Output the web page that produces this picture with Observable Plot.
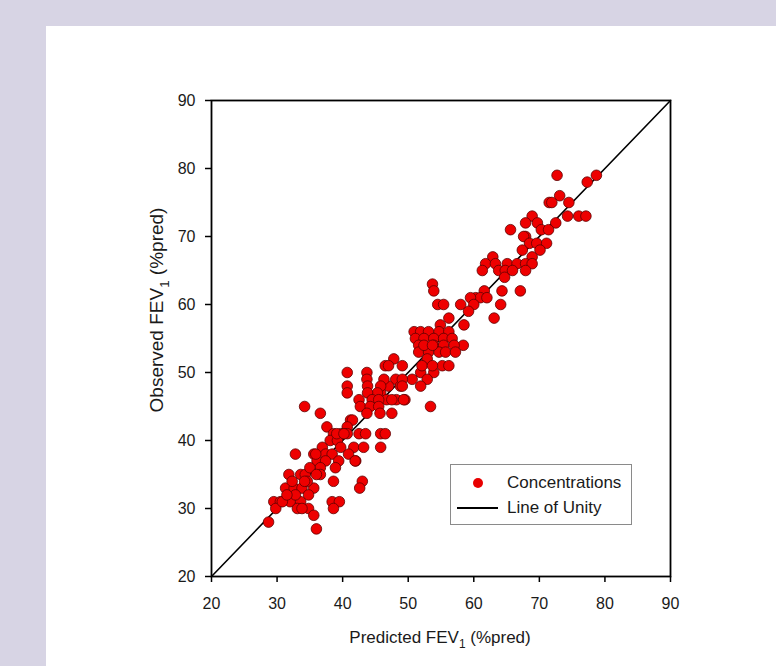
<!DOCTYPE html>
<html>
<head>
<meta charset="utf-8">
<script src="https://cdn.jsdelivr.net/npm/d3@7"></script>
<script src="https://cdn.jsdelivr.net/npm/@observablehq/plot@0.6"></script>
<style>
  html, body { margin: 0; padding: 0; }
  body { width: 776px; height: 666px; background: #d7d4e4; position: relative; overflow: hidden;
         font-family: "Liberation Sans", Arial, sans-serif; }
  #panel { position: absolute; left: 46px; top: 26px; width: 730px; height: 640px; background: #fff; }
  #legend { position: absolute; left: 404px; top: 438px; width: 180px; height: 59px;
            border: 1px solid #8a8a8a; background: #fff; color: #1a1a1a; font-size: 17px; }
  #legend .item { position: absolute; left: 0; height: 20px; white-space: nowrap; }
  #legend .lab { position: absolute; left: 56px; top: 0; line-height: 20px; }
  #legend .dot { position: absolute; left: 22px; top: 5px; width: 10px; height: 10px; border-radius: 50%; background: #e80000; }
  #legend .ln { position: absolute; left: 6px; top: 9px; width: 41px; height: 2px; background: #000; }
</style>
</head>
<body>
<div id="panel"></div>
<script>
// ---- data ----
const predicted = [
  72.7,78.7,77.3,73.1,71.5,71.9,74.5,76.0,77.1,74.3,72.5,68.9,67.9,69.7,70.3,71.4,65.6,67.9,67.6,68.5,
  69.6,71.1,67.4,70.1,68.9,62.9,61.8,63.3,65.1,66.6,67.9,68.9,61.3,63.8,64.8,65.9,67.9,64.7,61.6,60.3,
  61.0,62.0,59.5,64.3,67.1,64.1,63.1,60.0,59.2,58.0,
  53.7,53.9,54.5,55.4,56.2,54.9,58.5,50.9,51.9,53.1,54.7,56.2,51.1,52.4,53.9,55.4,56.7,58.4,51.6,53.9,
  55.4,57.0,51.6,53.1,54.7,55.7,57.2,46.5,47.8,49.1,52.9,55.2,56.2,53.9,51.9,50.6,52.9,48.1,47.0,48.8,
  51.9,48.2,49.5,45.8,53.4,52.4,53.7,52.1,53.7,47.0,49.1,46.3,45.8,49.1,45.3,46.7,47.5,49.3,
  43.7,43.7,40.7,40.7,40.7,42.5,43.8,43.8,44.5,45.5,42.7,44.2,45.5,43.7,45.7,47.5,41.2,41.5,40.7,37.6,
  38.6,39.7,40.7,42.5,43.5,45.8,46.5,38.1,39.2,39.7,36.9,41.7,43.2,45.8,35.6,37.4,38.4,40.9,42.0,32.8,
  34.2,36.6,36.1,37.4,39.4,36.6,38.9,41.9,39.1,40.2,35.9,
  43.0,38.6,42.6,38.4,39.5,38.6,36.6,31.8,33.6,34.3,31.3,32.6,33.8,35.6,32.3,34.6,29.5,30.5,32.0,33.6,
  29.8,33.1,34.8,35.6,28.7,36.0,34.8,32.8,33.8,30.8,34.2,31.5,35.0,36.0
];
const observed = [
  79,79,78,76,75,75,75,73,73,73,72,73,72,72,71,71,71,70,70,69,
  69,69,68,68,67,67,66,66,66,66,66,66,65,65,65,65,65,64,62,61,
  61,61,61,62,62,60,58,60,59,60,
  63,62,60,60,58,57,57,56,56,56,56,56,55,55,55,55,55,54,54,54,
  54,54,53,53,53,53,53,51,52,51,52,51,51,50,50,49,49,49,48,48,
  48,46,46,47,45,54,54,51,51,51,49,49,48,48,47,46,46,46,
  50,49,50,48,47,46,48,47,46,46,45,45,45,44,44,44,43,43,42,42,
  41,41,41,41,41,41,41,40,40,39,39,39,39,39,38,38,38,38,37,38,
  45,44,37,37,37,36,36,37,41,41,38,
  34,34,33,31,31,30,35,35,35,35,33,33,33,33,34,34,31,31,31,31,
  30,30,30,29,28,27,32,32,30,31,34,32,36,35
];
const unity = [20, 90];
const xTicks = [20, 30, 40, 50, 60, 70, 80, 90];
const yTicks = [20, 30, 40, 50, 60, 70, 80, 90];
const xTitle = ["Predicted FEV", "1", " (%pred)"];
const yTitle = ["Observed FEV", "1", " (%pred)"];
const legendLabels = ["Concentrations", "Line of Unity"];

const points = predicted.map((p, i) => ({p, o: observed[i]}));
const unityLine = unity.map(v => ({p: v, o: v}));

const W = 730, H = 640;
const chart = Plot.plot({
  width: W, height: H,
  marginLeft: 165, marginRight: 106, marginTop: 74, marginBottom: 90,
  style: {fontFamily: '"Liberation Sans", Arial, sans-serif', fontSize: "16px", color: "#1a1a1a", background: "transparent"},
  x: {domain: [20, 90], ticks: xTicks},
  y: {domain: [20, 90], ticks: yTicks},
  marks: [
    Plot.line(unityLine, {x: "p", y: "o", stroke: "#000", strokeWidth: 1.6}),
    Plot.dot(points, {x: "p", y: "o", r: 5.3, fill: "#ee0000", stroke: "#5e0000", strokeWidth: 0.8}),
    Plot.frame({stroke: "#000", strokeWidth: 1.8}),
    Plot.axisX({ticks: xTicks, tickSize: 6, tickPadding: 15, fontSize: 16, label: null, stroke: "#000", strokeWidth: 1.5}),
    Plot.axisY({ticks: yTicks, tickSize: 6, tickPadding: 10, fontSize: 16, label: null, stroke: "#000", strokeWidth: 1.5})
  ]
});
document.getElementById("panel").appendChild(chart);

// axis titles with subscript
const svg = d3.select(chart);
function addTitle(parts, x, y, rotate, size) {
  const t = svg.append("text")
    .attr("text-anchor", "middle")
    .attr("fill", "#1a1a1a")
    .attr("font-size", size)
    .attr("font-family", '"Liberation Sans", Arial, sans-serif')
    .attr("transform", `translate(${x},${y})` + (rotate ? " rotate(-90)" : ""));
  t.append("tspan").text(parts[0]);
  t.append("tspan").attr("font-size", size * 0.7).attr("dy", size * 0.3).text(parts[1]);
  t.append("tspan").attr("dy", -size * 0.3).text(parts[2]);
}
addTitle(xTitle, 394, 617, false, 17);
addTitle(yTitle, 117, 284, true, 19);

// legend
const lg = document.createElement("div");
lg.id = "legend";
lg.innerHTML = `
  <div class="item" style="top:8px;width:100%"><span class="dot"></span><span class="lab">${legendLabels[0]}</span></div>
  <div class="item" style="top:33px;width:100%"><span class="ln"></span><span class="lab">${legendLabels[1]}</span></div>`;
document.getElementById("panel").appendChild(lg);
</script>
</body>
</html>
